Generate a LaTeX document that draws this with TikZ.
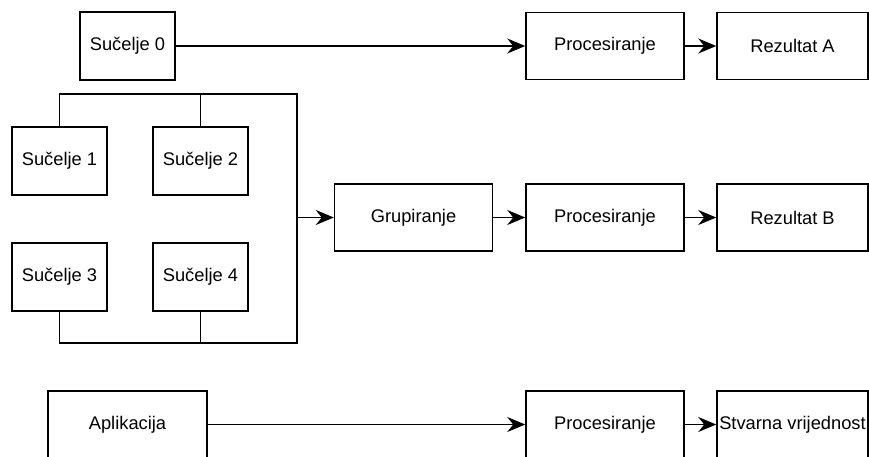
\documentclass[tikz,border=0pt]{standalone}
\usepackage{fontspec}
\setmainfont{Liberation Sans}
\usetikzlibrary{arrows.meta}

\begin{document}
\begin{tikzpicture}[x=1pt,y=-1pt,line width=1.5pt,
		box/.style={draw,rectangle,inner sep=0pt,minimum width=95pt,minimum height=68pt,font=\fontsize{18.3}{22}\selectfont},
		wide/.style={box,minimum width=158pt,minimum height=67pt},
		>={Stealth[length=18pt,width=15pt,inset=6pt]}]
		\useasboundingbox (0,0) rectangle (869,456);
		\node[box] (s0) at (127.5,46) {Sučelje 0};
		\node[box] (s1) at (59.5,161) {Sučelje 1};
		\node[box] (s2) at (200.5,161) {Sučelje 2};
		\node[box] (s3) at (59.5,277) {Sučelje 3};
		\node[box] (s4) at (200.5,277) {Sučelje 4};
		\node[wide,minimum width=159pt] (app) at (127.5,424.5) {Aplikacija};
		\node[wide] (grp) at (413.5,217.5) {Grupiranje};
		\node[wide] (procA) at (605,46) {Procesiranje};
		\node[wide] (procB) at (605,217.5) {Procesiranje};
		\node[wide] (procC) at (605,424.5) {Procesiranje};
		\node[wide,minimum width=151pt] (resA) at (792.5,46) {Rezultat A};
		\node[wide,minimum width=151pt] (resB) at (792.5,217.5) {Rezultat B};
		\node[wide,minimum width=151pt] (val) at (792.5,424.5) {Stvarna vrijednost};
		\coordinate (bustop) at (297,94);
		\coordinate (busbot) at (297,343);
		\coordinate (bus) at (297,217.5);
		\draw (s1.north) |- (bustop) -- (busbot) -| (s3.south);
		\draw (s2.north) -- (s2.north |- bustop);
		\draw (s4.south) -- (s4.south |- busbot);
		\draw[->] (bus) -- (grp);
		\draw[->] (s0) -- (procA);
		\draw[->] (grp) -- (procB);
		\draw[->] (app) -- (procC);
		\draw[->] (procA) -- (resA);
		\draw[->] (procB) -- (resB);
		\draw[->] (procC) -- (val);
	\end{tikzpicture}
\end{document}
